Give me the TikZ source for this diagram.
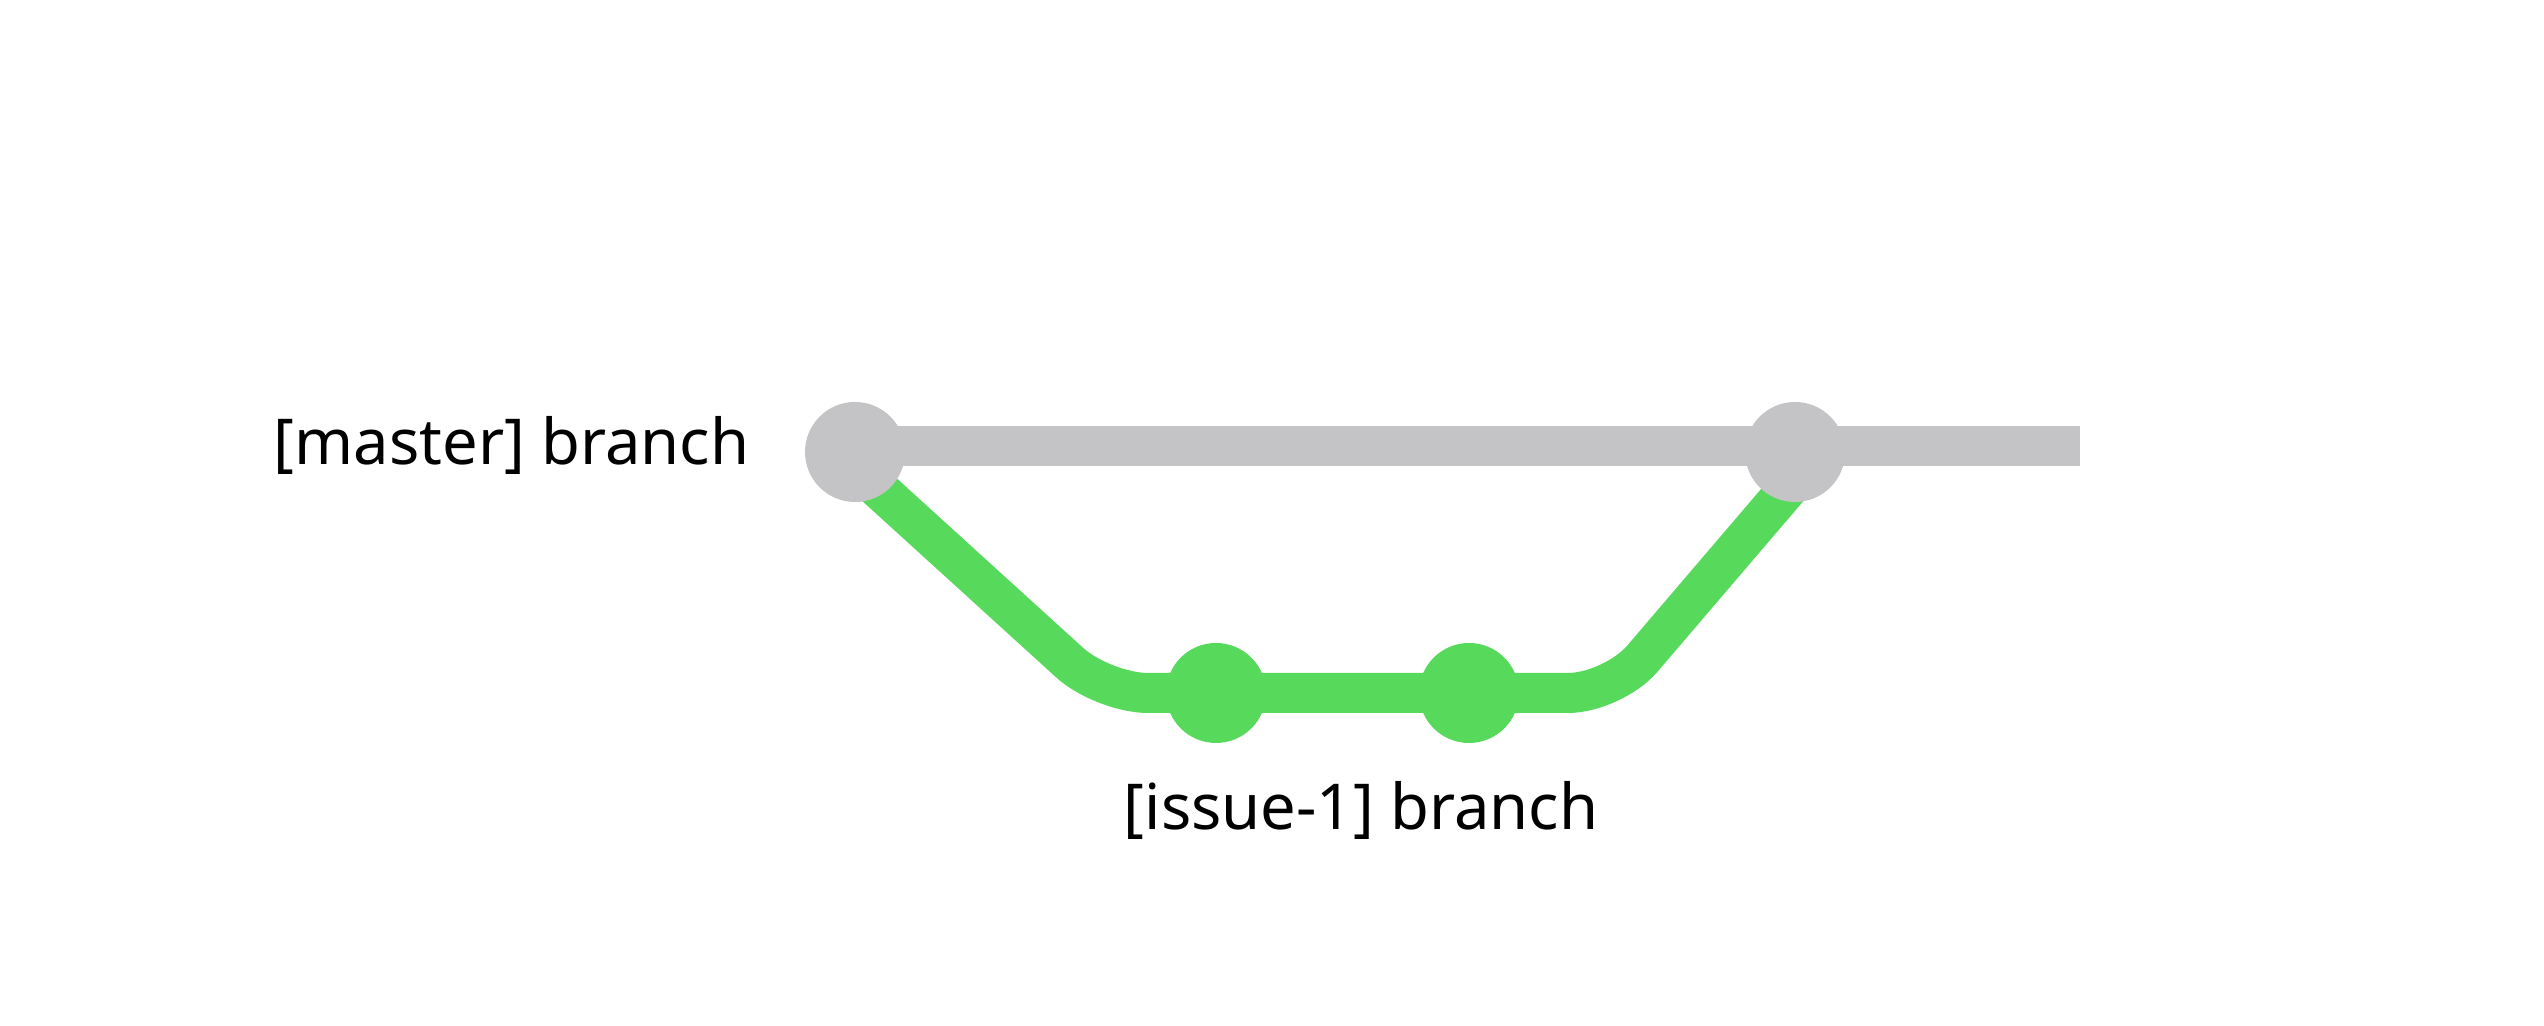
\documentclass[tikz,border=0pt]{standalone}
\usepackage{fontspec}
\setmainfont{Noto Sans}
\definecolor{mgray}{RGB}{196,196,198}
\definecolor{igreen}{RGB}{87,218,92}
\begin{document}
\begin{tikzpicture}
\tikzset{
  commitgray/.style={circle, fill=mgray, minimum size=1.0cm, inner sep=0pt},
  commitgreen/.style={circle, fill=igreen, minimum size=1.0cm, inner sep=0pt},
  masterline/.style={draw=mgray, line width=0.40cm},
  issueline/.style={draw=igreen, line width=0.40cm, rounded corners=0.45cm},
  lbl/.style={font=\fontsize{18}{21}\selectfont, text=black, inner sep=0pt}
}
\useasboundingbox (0,0) rectangle (25.44,10.26);
% coordinates
\coordinate (g0) at (8.38,5.74);
\coordinate (g1) at (11.03,3.33);
\coordinate (g2) at (16.13,3.33);
\coordinate (g3) at (18.19,5.74);
\coordinate (mstart) at (8.55,5.80);
\coordinate (mend) at (20.80,5.80);
% green branch
\draw[issueline] (g0) -- (g1) -- (g2) -- (g3);
% master line
\draw[masterline] (mstart) -- (mend);
% commits
\node[commitgray] (m1) at (8.55,5.74) {};
\node[commitgray] (m2) at (17.95,5.74) {};
\node[commitgreen] (i1) at (12.16,3.33) {};
\node[commitgreen] (i2) at (14.69,3.33) {};
% labels
\node[lbl, anchor=base east] (lm) at (7.50,5.61) {[master] branch};
\node[lbl, anchor=base] (li) at (13.61,1.96) {[issue-1] branch};
\end{tikzpicture}
\end{document}
